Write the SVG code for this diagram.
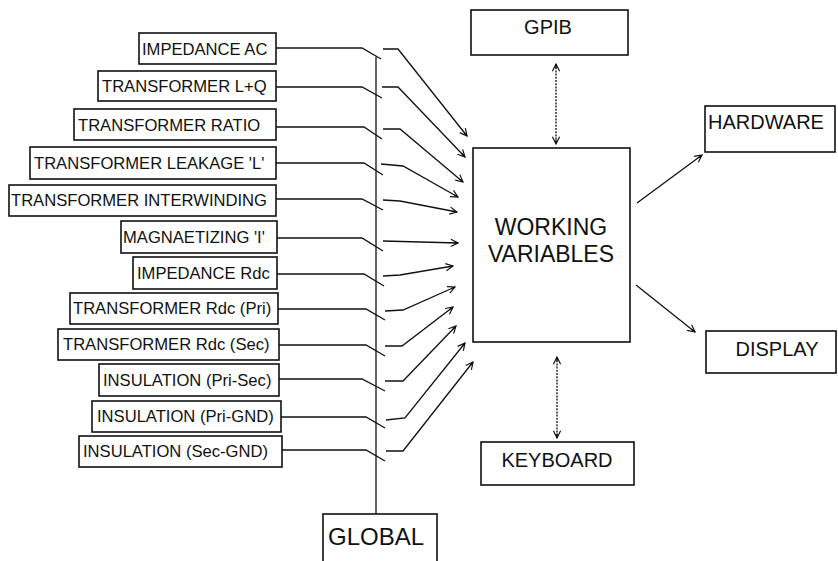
<svg xmlns="http://www.w3.org/2000/svg" width="838" height="561" viewBox="0 0 838 561">
<style>
.box{fill:#fff;stroke:#111;stroke-width:1.6}
.t{font-family:"Liberation Sans",Arial,sans-serif;fill:#111}
.lt{font-size:16.6px}
.mt{font-size:20px}
.c{fill:none;stroke:#111;stroke-width:1.3}
.d{fill:none;stroke:#111;stroke-width:1.3;stroke-dasharray:2 1.2}
</style>
<defs>
<marker id="ah" viewBox="0 0 10 10" refX="9" refY="5" markerWidth="9" markerHeight="9" markerUnits="userSpaceOnUse" orient="auto-start-reverse">
<path d="M1,1 L9,5 L1,9 M4,5 L9,5" fill="none" stroke="#111" stroke-width="1.3"/>
</marker>
</defs>
<rect width="838" height="561" fill="#fff"/>

<g id="connectors">
<line class="c" x1="376" y1="57" x2="376" y2="514"/>
<polyline class="c" points="276,48 362,48 381,59"/>
<polyline class="c" points="383,49 398,49 467,136" marker-end="url(#ah)"/>
<polyline class="c" points="276,87 362,87 382,98"/>
<polyline class="c" points="382,87 398,87 465,157" marker-end="url(#ah)"/>
<polyline class="c" points="276,127 364,127 382,139"/>
<polyline class="c" points="383,129 400,129 463,182" marker-end="url(#ah)"/>
<polyline class="c" points="276,163 364,163 383,175"/>
<polyline class="c" points="381,164 403,166 458,197" marker-end="url(#ah)"/>
<polyline class="c" points="276,199 362,199 383,210"/>
<polyline class="c" points="383,200 400,201 457,212" marker-end="url(#ah)"/>
<polyline class="c" points="277,238 362,238 383,251"/>
<polyline class="c" points="383,241 458,243" marker-end="url(#ah)"/>
<polyline class="c" points="277,274 364,274 384,286"/>
<polyline class="c" points="383,276 400,275 453,266" marker-end="url(#ah)"/>
<polyline class="c" points="278,309 366,309 385,320"/>
<polyline class="c" points="385,311 403,310 455,287" marker-end="url(#ah)"/>
<polyline class="c" points="279,345 366,345 385,356"/>
<polyline class="c" points="385,346 402,346 453,307" marker-end="url(#ah)"/>
<polyline class="c" points="279,379 362,379 385,391"/>
<polyline class="c" points="385,381 403,381 456,326" marker-end="url(#ah)"/>
<polyline class="c" points="281,417 366,417 385,428"/>
<polyline class="c" points="386,420 405,418 465,343" marker-end="url(#ah)"/>
<polyline class="c" points="282,450 366,450 385,461"/>
<polyline class="c" points="386,451 403,451 473,362" marker-end="url(#ah)"/>
<line class="d" x1="556" y1="64" x2="556" y2="144" marker-start="url(#ah)" marker-end="url(#ah)"/>
<line class="d" x1="557" y1="357" x2="557" y2="438" marker-start="url(#ah)" marker-end="url(#ah)"/>
<line class="c" x1="637" y1="203" x2="702" y2="155" marker-end="url(#ah)"/>
<line class="c" x1="636" y1="285" x2="695" y2="332" marker-end="url(#ah)"/>
</g>

<g id="n1"><rect class="box" x="139" y="33" width="137" height="31"/><text class="t lt" x="142" y="55">IMPEDANCE AC</text></g>
<g id="n2"><rect class="box" x="98" y="71" width="178" height="30"/><text class="t lt" x="102" y="92">TRANSFORMER L+Q</text></g>
<g id="n3"><rect class="box" x="74" y="109" width="202" height="31"/><text class="t lt" x="78" y="131">TRANSFORMER RATIO</text></g>
<g id="n4"><rect class="box" x="30" y="147" width="246" height="32"/><text class="t lt" x="34" y="169">TRANSFORMER LEAKAGE 'L'</text></g>
<g id="n5"><rect class="box" x="9" y="185" width="267" height="31"/><text class="t lt" x="11" y="206">TRANSFORMER INTERWINDING</text></g>
<g id="n6"><rect class="box" x="121" y="221" width="156" height="32"/><text class="t lt" x="123" y="243">MAGNAETIZING 'I'</text></g>
<g id="n7"><rect class="box" x="133" y="257" width="144" height="32"/><text class="t lt" x="137" y="279">IMPEDANCE Rdc</text></g>
<g id="n8"><rect class="box" x="70" y="293" width="208" height="31"/><text class="t lt" x="73" y="314">TRANSFORMER Rdc (Pri)</text></g>
<g id="n9"><rect class="box" x="58" y="329" width="221" height="31"/><text class="t lt" x="63" y="350">TRANSFORMER Rdc (Sec)</text></g>
<g id="n10"><rect class="box" x="99" y="364" width="180" height="32"/><text class="t lt" x="103" y="386">INSULATION (Pri-Sec)</text></g>
<g id="n11"><rect class="box" x="92" y="401" width="189" height="31"/><text class="t lt" x="97" y="422">INSULATION (Pri-GND)</text></g>
<g id="n12"><rect class="box" x="79" y="436" width="203" height="31"/><text class="t lt" x="83" y="457">INSULATION (Sec-GND)</text></g>

<g id="gpib"><rect class="box" x="471" y="10" width="157" height="45"/><text class="t mt" x="548" y="34" text-anchor="middle">GPIB</text></g>
<g id="wv"><rect class="box" x="473" y="148" width="157" height="194"/><text class="t" font-size="23" x="551" y="235" text-anchor="middle">WORKING</text><text class="t" font-size="23" x="551" y="262" text-anchor="middle">VARIABLES</text></g>
<g id="hardware"><rect class="box" x="705" y="106" width="130" height="46"/><text class="t mt" x="708" y="129">HARDWARE</text></g>
<g id="display"><rect class="box" x="706" y="331" width="130" height="42"/><text class="t mt" x="777" y="356" text-anchor="middle">DISPLAY</text></g>
<g id="keyboard"><rect class="box" x="481" y="442" width="153" height="43"/><text class="t mt" x="557" y="467" text-anchor="middle">KEYBOARD</text></g>
<g id="global"><rect class="box" x="323" y="514" width="114" height="50"/><text class="t" font-size="24" x="328" y="545">GLOBAL</text></g>
</svg>
